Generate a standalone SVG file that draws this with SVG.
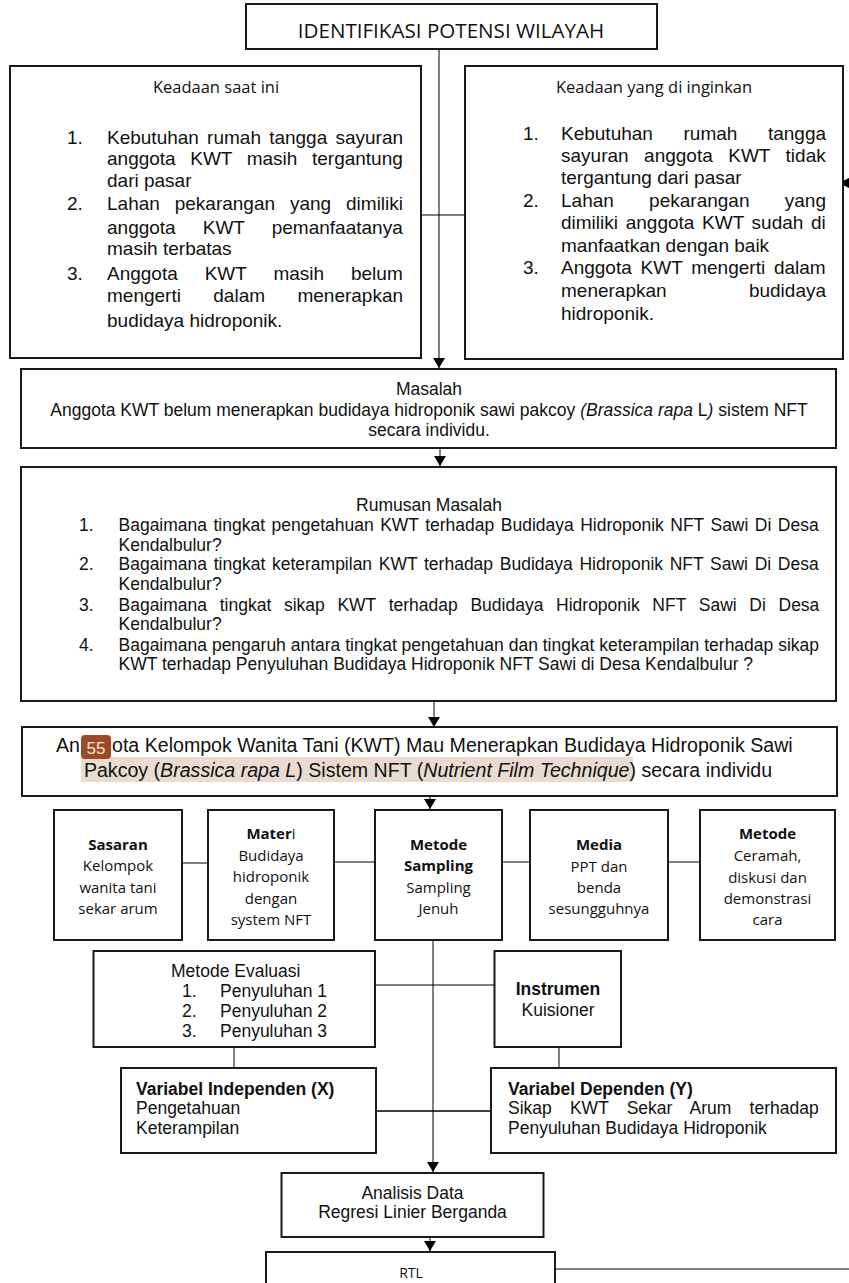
<svg xmlns="http://www.w3.org/2000/svg" width="849" height="1283" viewBox="0 0 849 1283">
<defs>
<style>
.box{fill:#fff;stroke:#1a1a1a;stroke-width:2}
.ln{stroke:#000;stroke-width:1;fill:none}
.a{font-family:"Liberation Sans",Arial,Helvetica,sans-serif;fill:#111}
.c{font-family:"Open Sans","Liberation Sans",sans-serif;fill:#111}
.m{text-anchor:middle}
.b{font-weight:bold}
.i{font-style:italic}
.f19{font-size:19px}
.f175{font-size:17.5px}
.f15{font-size:15px}
</style>
<marker id="ah" markerUnits="userSpaceOnUse" markerWidth="12" markerHeight="12" refX="10" refY="6" orient="auto">
<path d="M0,0 L10,6 L0,12 z" fill="#000"/>
</marker>
</defs>
<rect width="849" height="1283" fill="#fff"/>

<g id="connectors">
<line class="ln" x1="439" y1="49" x2="439" y2="368" marker-end="url(#ah)"/>
<line class="ln" x1="421" y1="215" x2="465" y2="215"/>
<polygon points="839,183 849,178 849,188" fill="#000"/>
<line class="ln" x1="440" y1="448" x2="440" y2="466" marker-end="url(#ah)"/>
<line class="ln" x1="434" y1="701" x2="434" y2="727" marker-end="url(#ah)"/>
<line class="ln" x1="430" y1="789" x2="430" y2="809" marker-end="url(#ah)"/>
<line class="ln" x1="182" y1="863" x2="208" y2="863"/>
<line class="ln" x1="334" y1="862" x2="375" y2="862"/>
<line class="ln" x1="502" y1="862" x2="530" y2="862"/>
<line class="ln" x1="668" y1="862" x2="700" y2="862"/>
<line class="ln" x1="375" y1="985" x2="495" y2="985"/>
<line class="ln" x1="234" y1="1047" x2="234" y2="1068"/>
<line class="ln" x1="559" y1="1047" x2="559" y2="1068"/>
<line class="ln" x1="376" y1="1111" x2="491" y2="1111" style="stroke-width:1.5"/>
<line class="ln" x1="433" y1="940" x2="433" y2="1172" marker-end="url(#ah)"/>
<line class="ln" x1="430" y1="1237" x2="430" y2="1251" marker-end="url(#ah)"/>
<line class="ln" x1="555" y1="1269" x2="849" y2="1269"/>
</g>

<g id="identifikasi">
<rect class="box" x="246" y="4" width="411" height="45"/>
<text class="c m" x="451" y="37.5" font-size="20.6">IDENTIFIKASI POTENSI WILAYAH</text>
</g>

<g id="keadaan-saat-ini">
<rect class="box" x="10" y="66" width="411" height="292"/>
<text class="c m" x="216" y="93" font-size="16.5">Keadaan saat ini</text>
<g class="a f19">
<text x="67" y="144">1.</text>
<text x="107" y="144" word-spacing="2.9">Kebutuhan rumah tangga sayuran</text>
<text x="107" y="165" word-spacing="9.3">anggota KWT masih tergantung</text>
<text x="107" y="187">dari pasar</text>
<text x="67" y="210">2.</text>
<text x="107" y="210" word-spacing="9.6">Lahan pekarangan yang dimiliki</text>
<text x="107" y="234" word-spacing="21.8">anggota KWT pemanfaatanya</text>
<text x="107" y="255">masih terbatas</text>
<text x="67" y="280">3.</text>
<text x="107" y="280" word-spacing="21.6">Anggota KWT masih belum</text>
<text x="107" y="302" word-spacing="27.1">mengerti dalam menerapkan</text>
<text x="107" y="327">budidaya hidroponik.</text>
</g>
</g>

<g id="keadaan-diinginkan">
<rect class="box" x="465" y="66" width="378" height="293"/>
<text class="c m" x="654" y="93" font-size="16.5">Keadaan yang di inginkan</text>
<g class="a f19">
<text x="523" y="140">1.</text>
<text x="561" y="140" word-spacing="25.3">Kebutuhan rumah tangga</text>
<text x="561" y="162" word-spacing="10.2">sayuran anggota KWT tidak</text>
<text x="561" y="184">tergantung dari pasar</text>
<text x="523" y="207">2.</text>
<text x="561" y="207" word-spacing="30">Lahan pekarangan yang</text>
<text x="561" y="229" word-spacing="2.4">dimiliki anggota KWT sudah di</text>
<text x="561" y="252">manfaatkan dengan baik</text>
<text x="523" y="274">3.</text>
<text x="561" y="274" word-spacing="3.5">Anggota KWT mengerti dalam</text>
<text x="561" y="297" word-spacing="77">menerapkan budidaya</text>
<text x="561" y="320">hidroponik.</text>
</g>
</g>

<g id="masalah">
<rect class="box" x="21" y="369" width="815" height="79"/>
<g class="a f175">
<text class="m" x="429" y="395">Masalah</text>
<text class="m" x="429" y="416">Anggota KWT belum menerapkan budidaya hidroponik sawi pakcoy <tspan class="i">(Brassica rapa</tspan> L<tspan class="i">)</tspan> sistem NFT</text>
<text class="m" x="429" y="436">secara individu.</text>
</g>
</g>

<g id="rumusan-masalah">
<rect class="box" x="21" y="467" width="815" height="234"/>
<g class="a f175">
<text class="m" x="429" y="511">Rumusan Masalah</text>
<text x="79" y="531">1.</text>
<text x="118.5" y="531" word-spacing="1.6">Bagaimana tingkat pengetahuan KWT terhadap Budidaya Hidroponik NFT Sawi Di Desa</text>
<text x="118.5" y="551">Kendalbulur?</text>
<text x="79" y="570">2.</text>
<text x="118.5" y="570" word-spacing="1.8">Bagaimana tingkat keterampilan KWT terhadap Budidaya Hidroponik NFT Sawi Di Desa</text>
<text x="118.5" y="590">Kendalbulur?</text>
<text x="79" y="611">3.</text>
<text x="118.5" y="611" word-spacing="7.8">Bagaimana tingkat sikap KWT terhadap Budidaya Hidroponik NFT Sawi Di Desa</text>
<text x="118.5" y="630">Kendalbulur?</text>
<text x="79" y="651">4.</text>
<text x="118.5" y="651">Bagaimana pengaruh antara tingkat pengetahuan dan tingkat keterampilan terhadap sikap</text>
<text x="118.5" y="670">KWT terhadap Penyuluhan Budidaya Hidroponik NFT Sawi di Desa Kendalbulur ?</text>
</g>
</g>

<g id="tujuan">
<rect class="box" x="22" y="727" width="815" height="69"/>
<rect x="81" y="757" width="552" height="25" fill="#e9dbd1"/>
<g class="a" font-size="19.6">
<text x="80" y="752" text-anchor="end">An</text>
<text x="112" y="752">ota Kelompok Wanita Tani (KWT) Mau Menerapkan Budidaya Hidroponik Sawi</text>
<text class="m" x="428" y="777">Pakcoy (<tspan class="i">Brassica rapa L</tspan>) Sistem NFT (<tspan class="i">Nutrient Film Technique</tspan>) secara individu</text>
</g>
<rect x="81" y="735" width="30" height="24" rx="4" fill="#9c4a25"/>
<text class="a m" x="96" y="753.5" font-size="17" style="fill:#f6e6d8">55</text>
</g>

<g id="sasaran">
<rect class="box" x="54" y="810" width="128" height="130"/>
<g class="c f15 m">
<text class="b" x="118" y="850">Sasaran</text>
<text x="118" y="871">Kelompok</text>
<text x="118" y="893">wanita tani</text>
<text x="118" y="914">sekar arum</text>
</g>
</g>

<g id="materi">
<rect class="box" x="208" y="810" width="126" height="130"/>
<g class="c f15 m">
<text x="271" y="839"><tspan class="b">Mater</tspan>i</text>
<text x="271" y="861">Budidaya</text>
<text x="271" y="882">hidroponik</text>
<text x="271" y="904">dengan</text>
<text x="271" y="925">system NFT</text>
</g>
</g>

<g id="metode-sampling">
<rect class="box" x="375" y="810" width="127" height="130"/>
<g class="c f15 m">
<text class="b" x="438.5" y="850">Metode</text>
<text class="b" x="438.5" y="871">Sampling</text>
<text x="438.5" y="893">Sampling</text>
<text x="438.5" y="914">Jenuh</text>
</g>
</g>

<g id="media">
<rect class="box" x="530" y="810" width="138" height="130"/>
<g class="c f15 m">
<text class="b" x="599" y="850">Media</text>
<text x="599" y="872">PPT dan</text>
<text x="599" y="893">benda</text>
<text x="599" y="914">sesungguhnya</text>
</g>
</g>

<g id="metode">
<rect class="box" x="700" y="810" width="135" height="130"/>
<g class="c f15 m">
<text class="b" x="767.5" y="839">Metode</text>
<text x="767.5" y="861">Ceramah,</text>
<text x="767.5" y="883">diskusi dan</text>
<text x="767.5" y="904">demonstrasi</text>
<text x="767.5" y="925">cara</text>
</g>
</g>

<g id="metode-evaluasi">
<rect class="box" x="93.5" y="951" width="281.5" height="96"/>
<g class="a f175">
<text x="171" y="977">Metode Evaluasi</text>
<text x="182" y="997">1.</text><text x="220" y="997">Penyuluhan 1</text>
<text x="182" y="1017">2.</text><text x="220" y="1017">Penyuluhan 2</text>
<text x="182" y="1037">3.</text><text x="220" y="1037">Penyuluhan 3</text>
</g>
</g>

<g id="instrumen">
<rect class="box" x="494.5" y="951" width="126.5" height="96"/>
<g class="a f175 m">
<text class="b" x="558" y="995">Instrumen</text>
<text x="558" y="1016">Kuisioner</text>
</g>
</g>

<g id="variabel-independen">
<rect class="box" x="121" y="1068" width="255" height="85"/>
<g class="a f175">
<text class="b" x="136" y="1095">Variabel Independen (X)</text>
<text x="136" y="1114">Pengetahuan</text>
<text x="136" y="1134">Keterampilan</text>
</g>
</g>

<g id="variabel-dependen">
<rect class="box" x="491" y="1068" width="345" height="85"/>
<g class="a f175">
<text class="b" x="508" y="1095">Variabel Dependen (Y)</text>
<text x="508" y="1114" word-spacing="13.3">Sikap KWT Sekar Arum terhadap</text>
<text x="508" y="1134">Penyuluhan Budidaya Hidroponik</text>
</g>
</g>

<g id="analisis-data">
<rect class="box" x="281.5" y="1173" width="262" height="64"/>
<g class="a f175 m">
<text x="412.5" y="1199">Analisis Data</text>
<text x="412.5" y="1218">Regresi Linier Berganda</text>
</g>
</g>

<g id="rtl">
<rect class="box" x="266" y="1252" width="289" height="60"/>
<text class="c m" x="411" y="1278" font-size="14">RTL</text>
</g>
</svg>
